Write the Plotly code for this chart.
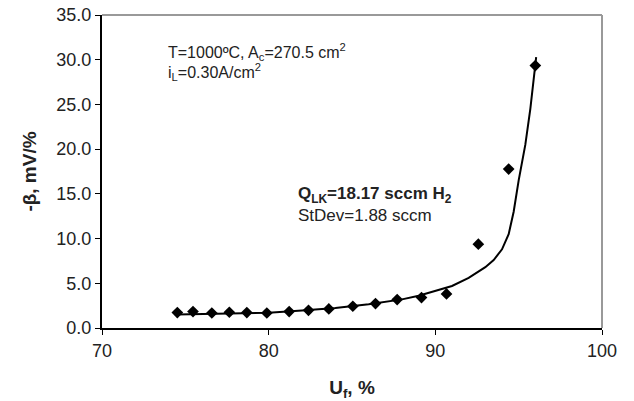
import plotly.graph_objects as go

# Measured data points
uf_points = [74.52, 75.46, 76.59, 77.64, 78.69, 79.89, 81.23, 82.39, 83.61,
             85.05, 86.41, 87.71, 89.17, 90.67, 92.58, 94.40, 96.00]
beta_points = [1.72, 1.84, 1.68, 1.76, 1.72, 1.68, 1.84, 1.98, 2.13,
               2.43, 2.73, 3.18, 3.40, 3.81, 9.37, 17.77, 29.34]

# Fitted model curve
uf_fit = [74.5, 76.0, 78.0, 80.0, 82.0, 84.0, 86.0, 88.0, 89.0, 90.0, 91.0,
          92.0, 93.0, 93.5, 94.0, 94.4, 94.7, 95.0, 95.4, 95.7, 96.05]
beta_fit = [1.50, 1.55, 1.62, 1.70, 1.95, 2.25, 2.65, 3.20, 3.60, 4.15, 4.70,
            5.60, 6.80, 7.60, 8.80, 10.5, 13.0, 16.5, 20.5, 24.5, 30.3]

x_ticks = [70, 80, 90, 100]
y_ticks = [0, 5, 10, 15, 20, 25, 30, 35]

FONT = "Liberation Sans, Arial, sans-serif"

fig = go.Figure()
fig.add_trace(go.Scatter(x=uf_fit, y=beta_fit, mode="lines",
                         line=dict(color="black", width=2), showlegend=False))
fig.add_trace(go.Scatter(x=uf_points, y=beta_points, mode="markers",
                         marker=dict(symbol="diamond", color="black", size=9),
                         showlegend=False))

fig.update_layout(
    width=634, height=401,
    margin=dict(l=102, r=32, t=15, b=73),
    paper_bgcolor="white", plot_bgcolor="white",
    font=dict(family=FONT, color="#222"),
    xaxis=dict(range=[70, 100], tickvals=x_ticks, ticktext=[str(v) for v in x_ticks],
               showgrid=False, zeroline=False, showline=True, linecolor="black",
               linewidth=2, ticks="outside", ticklen=5, tickcolor="black",
               automargin=False,
               tickfont=dict(size=18, family=FONT, color="#222"),
               title=dict(text="<b>U<sub>f</sub>, %</b>", font=dict(size=19, family=FONT, color="#222"),
                          standoff=22)),
    yaxis=dict(range=[0, 35], tickvals=y_ticks, ticktext=[f"{v:.1f}" for v in y_ticks],
               showgrid=False, zeroline=False, showline=True, linecolor="black",
               linewidth=2, ticks="outside", ticklen=5, tickcolor="black",
               automargin=False,
               tickfont=dict(size=18, family=FONT, color="#222"),
               title=dict(text="<b>-β, mV/%</b>", font=dict(size=19, family=FONT, color="#222"),
                          standoff=15)),
    shapes=[
        dict(type="line", xref="paper", yref="paper", x0=0, x1=1, y0=1, y1=1,
             line=dict(color="#999", width=2)),
        dict(type="line", xref="paper", yref="paper", x0=1, x1=1, y0=0, y1=1,
             line=dict(color="#999", width=2)),
    ],
    annotations=[
        dict(x=73.82, y=30.87, xref="x", yref="y", xanchor="left", yanchor="middle",
             text="T=1000ºC, A<sub>c</sub>=270.5 cm<sup>2</sup>", showarrow=False,
             font=dict(size=16, family=FONT, color="#222")),
        dict(x=73.82, y=28.63, xref="x", yref="y", xanchor="left", yanchor="middle",
             text="i<sub>L</sub>=0.30A/cm<sup>2</sup>", showarrow=False,
             font=dict(size=16, family=FONT, color="#222")),
        dict(x=81.63, y=14.86, xref="x", yref="y", xanchor="left", yanchor="middle",
             text="<b>Q<sub>LK</sub>=18.17 sccm H<sub>2</sub></b>", showarrow=False,
             font=dict(size=17, family=FONT, color="#222")),
        dict(x=81.63, y=12.62, xref="x", yref="y", xanchor="left", yanchor="middle",
             text="StDev=1.88 sccm", showarrow=False,
             font=dict(size=17, family=FONT, color="#222")),
    ],
)

fig.write_html("out.html", config={"displayModeBar": False},
               post_script="document.body.style.margin='0';document.body.style.overflow='hidden';")
